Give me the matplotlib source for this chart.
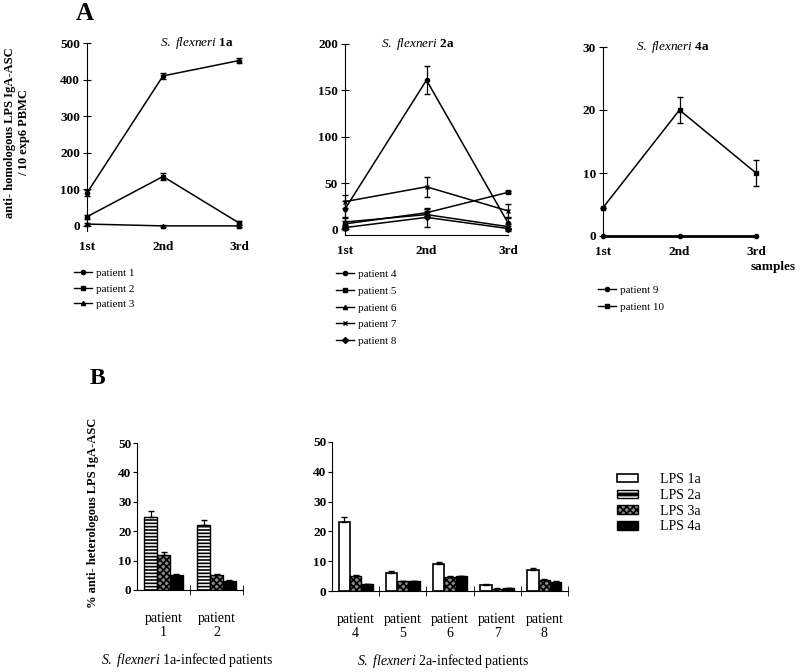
import numpy as np
import matplotlib
matplotlib.use("Agg")
import matplotlib.pyplot as plt
from matplotlib.lines import Line2D
from matplotlib.patches import Patch

plt.rcParams["font.family"] = ["Liberation Serif", "DejaVu Serif"]
plt.rcParams["mathtext.fontset"] = "custom"
plt.rcParams["mathtext.rm"] = "Liberation Serif"
plt.rcParams["mathtext.it"] = "Liberation Serif:italic"
plt.rcParams["mathtext.bf"] = "Liberation Serif:bold"
plt.rcParams["hatch.linewidth"] = 1.2

# --- data: panel A (homologous LPS IgA-ASC per 10^6 PBMC) ---
samples = ["1st", "2nd", "3rd"]

p1 = [90, 410, 452]
p1_err = [8, 8, 6]
p2 = [25, 135, 8]
p2_err = [5, 10, 6]
p3 = [5, 0, 0]
p3_err = [3, 2, 2]

p4 = [22, 161, 7]
p4_err = [9, 15, 5]
p5 = [6, 18, 40]
p5_err = [3, 4, 1]
p6 = [8, 16, 3]
p6_err = [4, 4, 3]
p7 = [30, 46, 20]
p7_err = [7, 11, 7]
p8 = [2, 13, 1]
p8_err = [3, 10, 3]

p9 = [0, 0, 0]
p10 = [4.5, 20, 10]
p10_err = [0, 2, 2]

# --- data: panel B (% heterologous LPS IgA-ASC) ---
b1_groups = ["patient\n1", "patient\n2"]
b1_lps2a = [25, 22]
b1_lps2a_err = [2, 1.8]
b1_lps3a = [12, 5]
b1_lps3a_err = [1, 0.5]
b1_lps4a = [5, 3]
b1_lps4a_err = [0.4, 0.3]

b2_groups = ["patient\n4", "patient\n5", "patient\n6", "patient\n7", "patient\n8"]
b2_lps1a = [23.3, 6, 9, 2, 7]
b2_lps1a_err = [1.5, 0.8, 0.8, 0.4, 0.8]
b2_lps3a = [5, 3.2, 4.7, 0.8, 3.6]
b2_lps3a_err = [0.3, 0.3, 0.2, 0.1, 0.3]
b2_lps4a = [2.2, 3.2, 5, 1, 3.1]
b2_lps4a_err = [0.2, 0.3, 0.1, 0.1, 0.2]

W, H = 800, 672
fig = plt.figure(figsize=(W / 100, H / 100), dpi=100)


def px_axes(left, right, top, bottom):
    return fig.add_axes([left / W, 1 - bottom / H, (right - left) / W, (bottom - top) / H])


def style_line_axes(ax, ylim, yticks, bottom_spine=False):
    for s in ["top", "right"]:
        ax.spines[s].set_visible(False)
    ax.spines["bottom"].set_visible(bottom_spine)
    ax.set_xlim(0, 2)
    ax.set_ylim(*ylim)
    ax.set_yticks(yticks)
    ax.set_xticks(range(len(samples)))
    ax.set_xticklabels(samples, fontweight="bold", fontsize=9.5)
    ax.tick_params(axis="x", length=0, pad=7)
    ax.tick_params(axis="y", direction="inout", length=6, labelsize=9.5, pad=2)
    for lab in ax.get_yticklabels():
        lab.set_fontweight("bold")
    ax.patch.set_alpha(0)


def draw_series(ax, vals, errs, marker, ms=3):
    x = np.arange(len(vals))
    ax.errorbar(x, vals, yerr=errs, color="black", lw=1.1, marker=marker, ms=ms,
                capsize=2.5, elinewidth=0.9, clip_on=False)


def line_legend(markers, labels, x, y, spacing):
    handles = [Line2D([], [], color="black", marker=m, ms=3, lw=1) for m in markers]
    fig.legend(handles, labels, loc="upper left", bbox_to_anchor=(x / W, 1 - y / H),
               frameon=False, fontsize=8, handlelength=1.6, handletextpad=0.3,
               labelspacing=spacing, borderaxespad=0)


# ---------- Panel A ----------
ax1 = px_axes(87, 239, 43, 231)
style_line_axes(ax1, (-14, 500), [0, 100, 200, 300, 400, 500])
draw_series(ax1, p1, p1_err, "o")
draw_series(ax1, p2, p2_err, "s")
draw_series(ax1, p3, p3_err, "^")
ax1.text(0.72, 1.0, r"$\it{S.\ flexneri}$ $\bf{1a}$", transform=ax1.transAxes,
         ha="center", va="center", fontsize=9.5)
line_legend(["o", "s", "^"], ["patient 1", "patient 2", "patient 3"], 70, 264, 0.5)

ax2 = px_axes(345, 508, 44, 235)
style_line_axes(ax2, (-6, 200), [0, 50, 100, 150, 200], bottom_spine=True)
draw_series(ax2, p4, p4_err, "o")
draw_series(ax2, p5, p5_err, "s")
draw_series(ax2, p6, p6_err, "^")
draw_series(ax2, p7, p7_err, "x", ms=3.5)
draw_series(ax2, p8, p8_err, "D")
ax2.text(0.45, 1.0, r"$\it{S.\ flexneri}$ $\bf{2a}$", transform=ax2.transAxes,
         ha="center", va="center", fontsize=9.5)
line_legend(["o", "s", "^", "x", "D"],
            ["patient 4", "patient 5", "patient 6", "patient 7", "patient 8"], 332, 265, 0.62)

ax3 = px_axes(603, 756, 47, 236)
style_line_axes(ax3, (0, 30), [0, 10, 20, 30])
ax3.plot(range(len(p9)), p9, color="black", lw=2, marker="o", ms=3, clip_on=False)
draw_series(ax3, p10, p10_err, "s")
ax3.text(0.46, 1.0, r"$\it{S.\ flexneri}$ $\bf{4a}$", transform=ax3.transAxes,
         ha="center", va="center", fontsize=9.5)
fig.text(773 / W, 1 - 267 / H, "samples", ha="center", va="center",
         fontweight="bold", fontsize=9.5)
line_legend(["o", "s"], ["patient 9", "patient 10"], 594, 281, 0.6)

fig.text(17 / W, 1 - 133 / H, "anti- homologous LPS IgA-ASC\n/ 10 exp6 PBMC",
         rotation=90, ha="center", va="center", fontweight="bold", fontsize=9,
         linespacing=1.3)
fig.text(85 / W, 1 - 14 / H, "A", ha="center", va="center", fontweight="bold", fontsize=18)

# ---------- Panel B ----------
BW = 0.24
OFFS = [0.26, 0.5, 0.74]


def bar_striped(ax, x, h, err):
    ax.bar(x, h, BW, color="black", edgecolor="white", hatch="-----", lw=0)
    ax.bar(x, h, BW, fill=False, edgecolor="black", lw=1,
           yerr=[np.zeros(len(h)), err], capsize=2.5, error_kw=dict(lw=0.9))


def bar_checked(ax, x, h, err):
    ax.bar(x, h, BW, color="#8a8a8a", edgecolor="black", hatch="xxxxx", lw=1,
           yerr=[np.zeros(len(h)), err], capsize=2.5, error_kw=dict(lw=0.9))


def bar_black(ax, x, h, err):
    ax.bar(x, h, BW, color="black", edgecolor="black", lw=1,
           yerr=[np.zeros(len(h)), err], capsize=2.5, error_kw=dict(lw=0.9))


def bar_white(ax, x, h, err):
    ax.bar(x, h, BW, color="white", edgecolor="black", lw=1.2,
           yerr=[np.zeros(len(h)), err], capsize=2.5, error_kw=dict(lw=0.9))


def style_bar_axes(ax, groups):
    n = len(groups)
    for s in ["top", "right"]:
        ax.spines[s].set_visible(False)
    ax.set_xlim(0, n)
    ax.set_ylim(0, 50)
    ax.set_yticks([0, 10, 20, 30, 40, 50])
    ax.set_xticks(np.arange(n) + 0.5)
    ax.set_xticklabels(groups, fontsize=10, linespacing=1.1)
    ax.set_xticks(np.arange(1, n + 1), minor=True)
    ax.tick_params(axis="x", which="major", length=0, pad=16)
    ax.tick_params(axis="x", which="minor", direction="inout", length=7)
    ax.tick_params(axis="y", direction="out", length=3, labelsize=9.5, pad=1)
    for lab in ax.get_yticklabels():
        lab.set_fontweight("bold")


bx1 = px_axes(137, 243, 443, 590)
xg = np.arange(len(b1_groups))
bar_striped(bx1, xg + OFFS[0], b1_lps2a, b1_lps2a_err)
bar_checked(bx1, xg + OFFS[1], b1_lps3a, b1_lps3a_err)
bar_black(bx1, xg + OFFS[2], b1_lps4a, b1_lps4a_err)
style_bar_axes(bx1, b1_groups)

bx2 = px_axes(332, 568, 442, 591)
xg = np.arange(len(b2_groups))
bar_white(bx2, xg + OFFS[0], b2_lps1a, b2_lps1a_err)
bar_checked(bx2, xg + OFFS[1], b2_lps3a, b2_lps3a_err)
bar_black(bx2, xg + OFFS[2], b2_lps4a, b2_lps4a_err)
style_bar_axes(bx2, b2_groups)

fig.text(93 / W, 1 - 513 / H, "% anti- heterologous LPS IgA-ASC", rotation=90,
         ha="center", va="center", fontweight="bold", fontsize=9)
fig.text(187 / W, 1 - 660 / H, r"$\it{S.\ flexneri}$ 1a-infected patients",
         ha="center", va="center", fontsize=10)
fig.text(443 / W, 1 - 661 / H, r"$\it{S.\ flexneri}$ 2a-infected patients",
         ha="center", va="center", fontsize=10)
fig.text(97 / W, 1 - 378 / H, "B", ha="center", va="center", fontweight="bold", fontsize=17)

hb = [
    Patch(facecolor="white", edgecolor="black", lw=1.2),
    (Patch(facecolor="black", edgecolor="white", hatch="---", lw=0),
     Patch(fill=False, edgecolor="black", lw=1)),
    Patch(facecolor="#8a8a8a", edgecolor="black", hatch="xxxxx", lw=1),
    Patch(facecolor="black", edgecolor="black", lw=1),
]
fig.legend(hb, ["LPS 1a", "LPS 2a", "LPS 3a", "LPS 4a"], loc="upper left",
           bbox_to_anchor=(617 / W, 1 - 473 / H), frameon=False, fontsize=10,
           handlelength=1.5, handleheight=0.55, handletextpad=1.6, labelspacing=0.2,
           borderaxespad=0, borderpad=0)

fig.savefig("out.png", dpi=100)
